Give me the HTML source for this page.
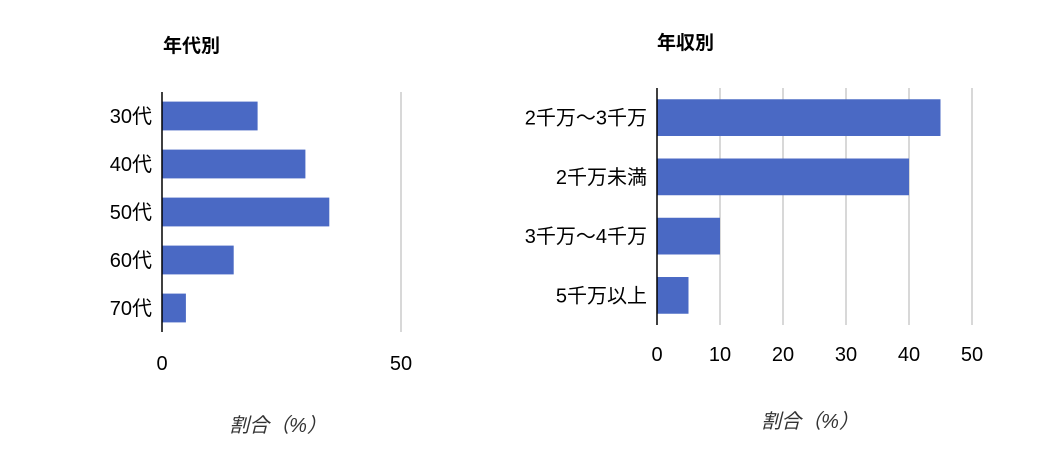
<!DOCTYPE html>
<html><head><meta charset="utf-8">
<style>
body{margin:0;background:#fff;}
svg{display:block;font-family:"Liberation Sans","Noto Sans CJK JP",sans-serif;}
</style></head>
<body>
<svg id="c" width="1054" height="462" xmlns="http://www.w3.org/2000/svg">
<text x="163" y="52" font-size="19" font-weight="bold" fill="#000">年代別</text>
<text x="657" y="49" font-size="19" font-weight="bold" fill="#000">年収別</text>
<text x="278" y="432" font-size="20" font-style="italic" fill="#333" text-anchor="middle">割合（%）</text>
<text x="810" y="428" font-size="20" font-style="italic" fill="#333" text-anchor="middle">割合（%）</text>
<g id="left"></g>
<g id="right"></g>
</svg>
<script>
const ageCats=["30代","40代","50代","60代","70代"];
const ageVals=[20,30,35,15,5];
const ageTicks=[0,50];
const incCats=["2千万～3千万","2千万未満","3千万～4千万","5千万以上"];
const incVals=[45,40,10,5];
const incTicks=[0,10,20,30,40,50];
const NS="http://www.w3.org/2000/svg";
function mk(tag,attrs,parent){const e=document.createElementNS(NS,tag);for(const k in attrs)e.setAttribute(k,attrs[k]);parent.appendChild(e);return e;}
function draw(g,cats,vals,ticks,x0,x1,max,top,bottom,barFrac,tickY,prefix){
  const sx=v=>x0+(x1-x0)*v/max;
  const band=(bottom-top)/cats.length;
  ticks.forEach(t=>{
    if(t>0){const l=mk('line',{x1:sx(t),x2:sx(t),y1:top,y2:bottom,stroke:'#ccc','stroke-width':1.5},g);
    
    }
    const tx=mk('text',{x:sx(t),y:tickY,'font-size':20,'text-anchor':'middle',fill:'#000'},g);
    tx.textContent=t;
    
    
  });
  cats.forEach((c,i)=>{
    const h=band*barFrac, y=top+band*i+(band-h)/2;
    const r=mk('rect',{x:x0,y:y,width:sx(vals[i])-x0,height:h,fill:'#4a69c4'},g);
    
    
    const t=mk('text',{x:x0-10,y:y+h/2+7,'font-size':20,'text-anchor':'end',fill:'#000'},g);
    t.textContent=c;
    
    
  });
  const a=mk('line',{x1:x0,x2:x0,y1:top,y2:bottom,stroke:'#000','stroke-width':1.5},g);
  
  
}
draw(document.getElementById('left'),ageCats,ageVals,ageTicks,162,401,50,92,332,0.6,370,'age');
draw(document.getElementById('right'),incCats,incVals,incTicks,657,972,50,88,325,0.62,361,'income');
</script>
</body></html>
